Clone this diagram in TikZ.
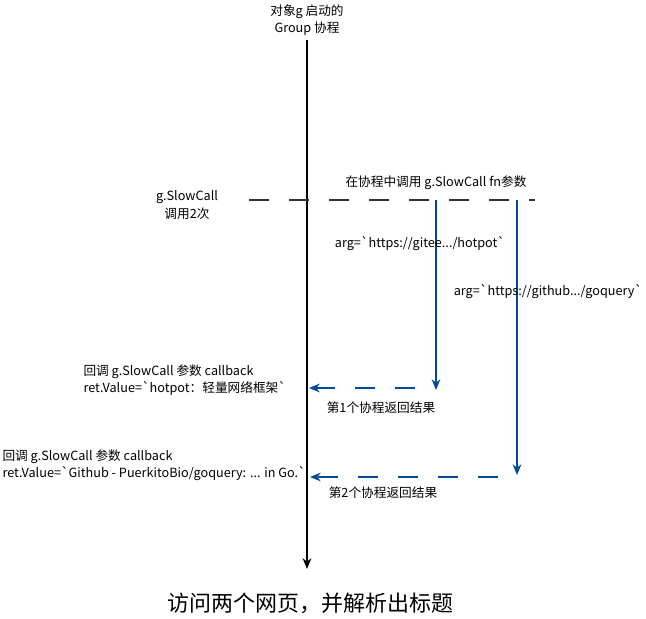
\documentclass[tikz,border=0pt]{standalone}
\usepackage{fontspec}
\newfontfamily\cjk{Noto Sans CJK SC}
\usetikzlibrary{arrows.meta}

\definecolor{callblue}{RGB}{0,76,153}
\definecolor{dashgray}{RGB}{51,51,51}
\tikzset{every picture/.style={line width=0.75pt},
  tiparrow/.style={-{Stealth[length=8pt,width=6.5pt,inset=2.5pt]}},
  mainline/.style={draw=black,line width=1.5pt,tiparrow},
  splitline/.style={draw=dashgray,line width=1.5pt,dash pattern=on 15pt off 15pt},
  callline/.style={draw=callblue,line width=1.5pt,tiparrow},
  backline/.style={draw=callblue,line width=1.5pt,dash pattern=on 15pt off 15pt,tiparrow},
  lbl/.style={inner sep=0.75pt,font=\cjk\fontsize{9.5}{13}\selectfont}}

\begin{document}
\begin{tikzpicture}[x=0.75pt,y=0.75pt,yscale=-1,xscale=1]
\useasboundingbox (0,0) rectangle (646,618); %set diagram to 646 x 618

%Points
\coordinate (gtop) at (307,40);
\coordinate (gend) at (307,569);
\coordinate (splitl) at (249,200);
\coordinate (splitr) at (535,200);
\coordinate (callA) at (436,200);
\coordinate (retA) at (436,390);
\coordinate (callB) at (517,200);
\coordinate (retB) at (517,475);
\coordinate (backA) at (415,388);
\coordinate (cbA) at (309,388);
\coordinate (backB) at (498,477);
\coordinate (cbB) at (310,477);

%Straight Lines [group goroutine]
\draw [mainline]   (gtop) -- (gend) ;
%Straight Lines [two calls]
\draw [splitline]   (splitl) -- (splitr) ;
%Straight Lines [first fn]
\draw [callline]   (callA) -- (retA) ;
%Straight Lines [second fn]
\draw [callline]   (callB) -- (retB) ;
%Straight Lines [first result]
\draw [backline]   (backA) -- (cbA) ;
%Straight Lines [second result]
\draw [backline]   (backB) -- (cbB) ;

% Text Node
\draw (307,20) node (grouplbl) [lbl,align=center]    {对象g 启动的\\Group 协程};
% Text Node
\draw (187,205) node (twicelbl) [lbl,align=center]    {g.SlowCall\\调用2次};
% Text Node
\draw (436,183) node (fnlbl) [lbl]    {在协程中调用 g.SlowCall fn参数};
% Text Node
\draw (420,244) node (arglblA) [lbl]    {arg=`https://gitee.../hotpot`};
% Text Node
\draw (548,292) node (arglblB) [lbl]    {arg=`https://github.../goquery`};
% Text Node
\draw (82,380) node (cblblA) [lbl,anchor=west,align=left]    {回调 g.SlowCall 参数 callback\\ret.Value=`hotpot：轻量网络框架`};
% Text Node
\draw (381,408) node (retlblA) [lbl]    {第1个协程返回结果};
% Text Node
\draw (1,465) node (cblblB) [lbl,anchor=west,align=left]    {回调 g.SlowCall 参数 callback\\ret.Value=`Github - PuerkitoBio/goquery: ... in Go.`};
% Text Node
\draw (383,493) node (retlblB) [lbl]    {第2个协程返回结果};
% Text Node
\draw (310,603) node (titlelbl) [inner sep=0.75pt,font=\cjk\fontsize{16.5}{20}\selectfont]    {访问两个网页，并解析出标题};
\end{tikzpicture}
\end{document}
